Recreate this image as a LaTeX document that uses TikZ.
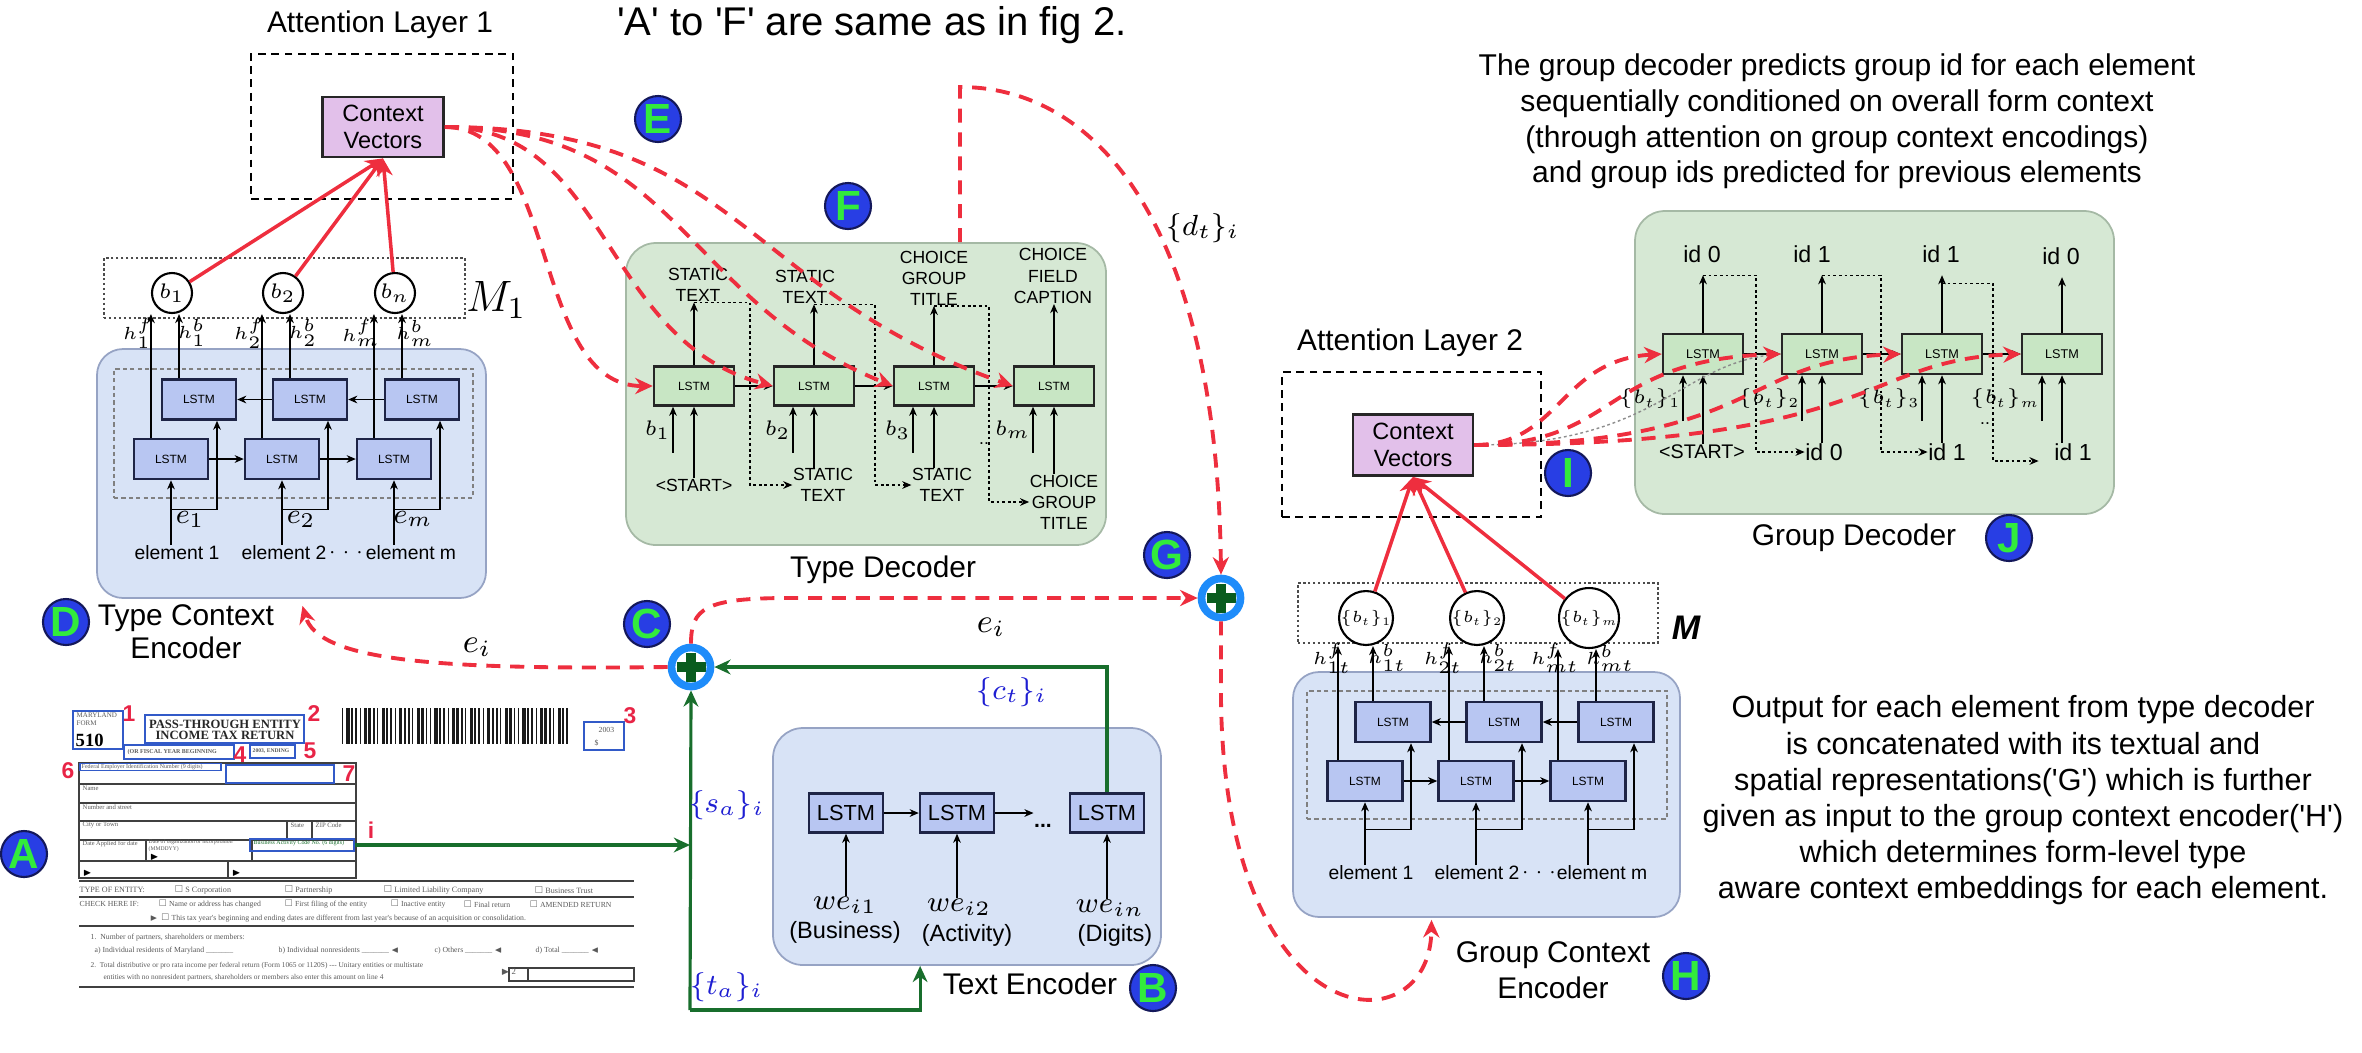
\RequirePackage{fix-cm}
\documentclass[tikz,border=0pt]{standalone}
\usepackage[no-math]{fontspec}
\setmainfont{Liberation Sans}
\newfontfamily\formfont{Liberation Serif}
\usepackage{amssymb}
\usetikzlibrary{arrows.meta,calc}

\definecolor{attnred}{RGB}{238,46,62}
\definecolor{fgreen}{RGB}{24,110,44}
\definecolor{encfill}{RGB}{216,227,246}
\definecolor{encdraw}{RGB}{150,163,196}
\definecolor{decfill}{RGB}{214,232,212}
\definecolor{decdraw}{RGB}{165,185,165}
\definecolor{lstmblue}{RGB}{184,198,242}
\definecolor{lstmdraw}{RGB}{30,36,70}
\definecolor{lstmgreen}{RGB}{200,230,196}
\definecolor{ctxfill}{RGB}{226,192,234}
\definecolor{badgeblue}{RGB}{40,62,228}
\definecolor{badgedraw}{RGB}{20,24,90}
\definecolor{badgegreen}{RGB}{50,235,60}
\definecolor{ringblue}{RGB}{30,140,250}
\definecolor{plusgreen}{RGB}{10,92,30}
\definecolor{labblue}{RGB}{30,30,210}
\definecolor{formblue}{RGB}{50,90,200}
\definecolor{numred}{RGB}{232,36,70}

\begin{document}
\begin{tikzpicture}[x=0.1mm, y=-0.1mm,
  lbl/.style={font=\fontsize{8.5}{9.4}\selectfont, align=center, inner sep=0},
  para/.style={font=\fontsize{8.55}{10.15}\selectfont, align=center, inner sep=0},
  encbox/.style={draw=encdraw, fill=encfill, rounded corners=2.6mm, line width=0.5pt},
  decbox/.style={draw=decdraw, fill=decfill, rounded corners=3mm, line width=0.5pt},
  innerbox/.style={draw=black!50, dash pattern=on 1.2pt off 0.9pt, line width=0.3pt},
  attbox/.style={draw=black, dash pattern=on 2.2pt off 1.6pt, line width=0.6pt},
  mbox/.style={draw=black!70, dash pattern=on 0.7pt off 0.7pt, line width=0.45pt},
  lstmb/.style={draw=lstmdraw, fill=lstmblue, line width=0.7pt, minimum width=7.4mm, minimum height=4mm, inner sep=0, font=\fontsize{3.4}{4}\selectfont},
  lstmg/.style={draw=black!85, fill=lstmgreen, line width=0.7pt, minimum width=8mm, minimum height=3.9mm, inner sep=0, font=\fontsize{3.4}{4}\selectfont},
  ctx/.style={draw=black!85, fill=ctxfill, line width=0.8pt, minimum width=12.1mm, minimum height=6mm, inner sep=0, align=center, font=\fontsize{6.7}{7.5}\selectfont},
  bcirc/.style={circle, draw=black, line width=0.6pt, fill=white, minimum size=4mm, inner sep=0, font=\fontsize{6}{6}\selectfont},
  badge/.style={circle, draw=badgedraw, line width=0.6pt, fill=badgeblue, text=badgegreen, minimum size=4.6mm, inner sep=0, font=\bfseries\fontsize{12}{12}\selectfont},
  plusnode/.style={circle, draw=ringblue, line width=2.2pt, fill=white, minimum size=3.9mm, inner sep=0, path picture={
      \fill[plusgreen] ($(path picture bounding box.center)+(-1.45mm,-0.5mm)$) rectangle ($(path picture bounding box.center)+(1.45mm,0.5mm)$);
      \fill[plusgreen] ($(path picture bounding box.center)+(-0.5mm,-1.45mm)$) rectangle ($(path picture bounding box.center)+(0.5mm,1.45mm)$);}},
  thinarr/.style={draw=black, line width=0.35pt, -{Stealth[length=2.6pt,width=2.2pt]}},
  feedback/.style={thinarr, dash pattern=on 0.8pt off 0.8pt},
  redarr/.style={draw=attnred, line width=1pt, -{Stealth[length=5pt,width=4.6pt]}},
  reddash/.style={draw=attnred, line width=1.1pt, dash pattern=on 4pt off 2.8pt, -{Stealth[length=5pt,width=4.6pt]}},
  grnarr/.style={draw=fgreen, line width=0.9pt, -{Stealth[length=4.6pt,width=4.2pt]}},
  outlbl/.style={font=\fontsize{5}{6}\selectfont, align=center, inner sep=0},
  idlbl/.style={font=\fontsize{6.6}{7}\selectfont, inner sep=0},
  hlab/.style={font=\fontsize{5}{5}\selectfont, inner sep=0},
  blab/.style={font=\fontsize{6}{6}\selectfont, inner sep=0},
  elab/.style={font=\fontsize{8}{8}\selectfont, inner sep=0},
  mlab/.style={font=\fontsize{8.3}{9}\selectfont, inner sep=0},
  elem/.style={font=\fontsize{5.5}{6}\selectfont, inner sep=0},
  wlab/.style={font=\fontsize{6.7}{7}\selectfont, inner sep=0},
  rednum/.style={text=numred, font=\bfseries\fontsize{6.5}{6.5}\selectfont, inner sep=0},
  ftxt/.style={font=\formfont\fontsize{2.2}{2.6}\selectfont, text=black!65, inner sep=0, anchor=west},
  fbox/.style={draw=formblue, line width=0.35pt, inner sep=0},
  fline/.style={draw=black!75, line width=0.5pt}]
\useasboundingbox (0,0) rectangle (2362,1052);

% titles and notes
\node[font=\fontsize{11.4}{12}\selectfont, inner sep=0] (title) at (872,25) {\textquotesingle A\textquotesingle\ to \textquotesingle F\textquotesingle\ are same as in fig 2.};
\node[para] (p1) at (1837,121.5) {The group decoder predicts group id for each element\\sequentially conditioned on overall form context\\(through attention on group context encodings)\\and group ids predicted for previous elements};
\node[para, font=\fontsize{8.7}{10.3}\selectfont] (p2) at (2023,800.5) {Output for each element from type decoder\\is concatenated with its textual and\\spatial representations(\textquotesingle G\textquotesingle) which is further\\given as input to the group context encoder(\textquotesingle H\textquotesingle)\\which determines form-level type\\aware context embeddings for each element.};

% attention layer 1
\node[lbl] (att1lbl) at (380,25) {Attention Layer 1};
\node[attbox, minimum width=26.2mm, minimum height=14.5mm] (att1) at (382,126.5) {};
\node[ctx] (ctx1) at (383,127) {Context\\Vectors};

% type context encoder
\node[encbox, minimum width=38.9mm, minimum height=24.9mm] (tce) at (291.5,473.5) {};
\node[innerbox, minimum width=35.9mm, minimum height=12.9mm] (tcein) at (293.5,433.5) {};
\node[mbox, minimum width=36.1mm, minimum height=6mm] (m1box) at (284.5,288) {};
\node[font=\fontsize{12.5}{13}\selectfont, inner sep=0] (m1lbl) at (496,300) {$M_1$};
\foreach \i/\x/\hs/\bs/\ex in {1/171/1/1/177, 2/282/2/2/284, 3/394/m/n/411}{
  \node[lstmb] (tfw\i) at (\x,459) {LSTM};
  \node[lstmb] (tbw\i) at (\x+28,399.5) {LSTM};
  \node[bcirc] (b\i) at (\x+1,293) {$b_{\bs}$};
  \node[elem] (el\i) at (\ex,553) {element \hs};
  \node[elab] (e\i) at (\x+19,519) {$e_{\hs}$};
  \node[hlab] (hf\i) at (\x-33,333) {$h^f_{\hs}$};
  \node[hlab] (hb\i) at (\x+21,333) {$h^b_{\hs}$};
  \draw[thinarr] (tfw\i.south |- el\i.north) -- (tfw\i.south);
  \draw[thinarr] ($(tfw\i.south)+(0,29)$) -| ($(tbw\i.south)+(18,0)$);
  \draw[thinarr] (b\i.west |- tfw\i.north) -- (b\i.west |- b\i.south);
  \draw[thinarr] ($(b\i.south |- tbw\i.north)+(7,0)$) -- ($(b\i.south)+(7,0)$);
  \draw[redarr] (b\i) -- (ctx1.south);
}
\node[elem] (eldots) at (346,553) {$\cdots$};
\draw[thinarr] (tfw1) -- (tfw2);
\draw[thinarr] (tfw2) -- (tfw3);
\draw[thinarr] (tbw3) -- (tbw2);
\draw[thinarr] (tbw2) -- (tbw1);
\node[lbl] (tcelbl) at (186,632) {Type Context\\Encoder};

% type decoder
\node[decbox, minimum width=48mm, minimum height=30.2mm] (tdbox) at (866,394) {};
\foreach \i/\x in {1/694,2/814,3/934,4/1054}
  \node[lstmg] (tl\i) at (\x,386) {LSTM};
\node[outlbl] (to1) at (698,285) {STATIC\\TEXT};
\node[outlbl] (to2) at (805,287) {STATIC\\TEXT};
\node[outlbl] (to3) at (934,278) {CHOICE\\GROUP\\TITLE};
\node[outlbl] (to4) at (1053,276) {CHOICE\\FIELD\\CAPTION};
\node[outlbl] (ti1) at (694,485) {<START>};
\node[outlbl] (ti2) at (823,485) {STATIC\\TEXT};
\node[outlbl] (ti3) at (942,485) {STATIC\\TEXT};
\node[outlbl] (ti4) at (1064,502) {CHOICE\\GROUP\\TITLE};
\foreach \i/\bb in {1/1,2/2,3/3,4/m}{
  \draw[thinarr] (tl\i.north) -- (tl\i.north |- to\i.south);
  \draw[thinarr] (tl\i.south |- ti\i.north) -- (tl\i.south);
  \draw[thinarr] ($(tl\i.south)+(-21,46)$) -- node[left=0.6pt, blab] (tdb\i) {$b_{\bb}$} ($(tl\i.south)+(-21,0)$);
}
\foreach \i/\j in {1/2,2/3,3/4}
  \draw[thinarr] (tl\i) -- (tl\j);
\draw[feedback] (tl1.north |- to1.south) -- ++(56,0) |- (ti2.west);
\draw[feedback] (tl2.north |- to2.south) -- ++(61,0) |- (ti3.west);
\draw[feedback] (tl3.north |- to3.south) -- ++(55,0) |- (ti4.west);
\node[outlbl] (tddots) at (984,444) {..};
\node[lbl] (tdlbl) at (883,570) {Type Decoder};

% text encoder
\node[encbox, rounded corners=3mm, minimum width=38.8mm, minimum height=23.7mm] (tebox) at (967,846.5) {};
\foreach \i/\x in {1/846,2/957,3/1107}
  \node[lstmb, minimum height=3.9mm, font=\fontsize{6.2}{7}\selectfont] (tel\i) at (\x,813) {LSTM};
\node[mlab] (we1) at (845,905) {$we_{i1}$};
\node[mlab] (we2) at (959,907) {$we_{i2}$};
\node[mlab] (we3) at (1110,908) {$we_{in}$};
\node[wlab] (wt1) at (845,932) {(Business)};
\node[wlab] (wt2) at (967,935) {(Activity)};
\node[wlab] (wt3) at (1115,935) {(Digits)};
\foreach \i in {1,2,3}
  \draw[thinarr] (tel\i.south |- we\i.north) -- (tel\i.south);
\node[font=\bfseries\fontsize{6}{6}\selectfont, inner sep=0] (tedots) at (1043,826) {...};
\draw[thinarr] (tel1) -- (tel2);
\draw[thinarr] (tel2.east) -- (tel2.east -| tedots.west);
\node[lbl] (telbl) at (1030,984) {Text Encoder};

% attention layer 2
\node[lbl] (att2lbl) at (1410,343) {Attention Layer 2};
\node[attbox, minimum width=25.9mm, minimum height=14.5mm] (att2) at (1411.5,444.5) {};
\node[ctx, minimum width=12mm, minimum height=6.1mm] (ctx2) at (1413,445) {Context\\Vectors};

% group context encoder
\node[encbox, minimum width=38.7mm, minimum height=24.5mm] (gce) at (1486.5,794.5) {};
\node[innerbox, minimum width=36mm, minimum height=12.8mm] (gcein) at (1487,755) {};
\node[mbox, minimum width=36mm, minimum height=6mm] (gmbox) at (1478,613) {};
\node[font=\bfseries\itshape\fontsize{9.7}{10}\selectfont, inner sep=0] (mlbl) at (1686,628) {M};
\foreach \i/\x/\hs/\ex in {1/1365/1/1371, 2/1476/2/1477, 3/1588/m/1602}{
  \node[lstmb, minimum width=7.5mm] (gfw\i) at (\x,781) {LSTM};
  \node[lstmb, minimum width=7.5mm] (gbw\i) at (\x+28,722) {LSTM};
  \node[bcirc, font=\fontsize{4.6}{5}\selectfont] (gb\i) at (\x+1,618) {$\{b_t\}_{\hs}$};
  \node[elem] (gel\i) at (\ex,873) {element \hs};
  \node[hlab] (ghf\i) at (\x-33,658) {$h^f_{\hs t}$};
  \node[hlab] (ghb\i) at (\x+22,658) {$h^b_{\hs t}$};
  \draw[thinarr] (gfw\i.south |- gel\i.north) -- (gfw\i.south);
  \draw[thinarr] ($(gfw\i.south)+(0,27)$) -| ($(gbw\i.south)+(18,0)$);
  \draw[thinarr] (gb\i.west |- gfw\i.north) -- (gb\i.west |- gb\i.south);
  \draw[thinarr] ($(gb\i.south |- gbw\i.north)+(7,0)$) -- ($(gb\i.south)+(7,0)$);
  \draw[redarr] (gb\i) -- (ctx2.south);
}
\node[elem] (geldots) at (1539,873) {$\cdots$};
\draw[thinarr] (gfw1) -- (gfw2);
\draw[thinarr] (gfw2) -- (gfw3);
\draw[thinarr] (gbw3) -- (gbw2);
\draw[thinarr] (gbw2) -- (gbw1);
\node[lbl, font=\fontsize{8.5}{10.2}\selectfont] (gcelbl) at (1553,970) {Group Context\\Encoder};

% group decoder
\node[decbox, minimum width=47.9mm, minimum height=30.3mm] (gdbox) at (1874.5,362.5) {};
\foreach \i/\x in {1/1703,2/1822,3/1942,4/2062}
  \node[lstmg, minimum height=4mm, font=\fontsize{3.6}{4}\selectfont] (gl\i) at (\x,354) {LSTM};
\node[idlbl] (go1) at (1702,254) {id 0};
\node[idlbl] (go2) at (1812,254) {id 1};
\node[idlbl] (go3) at (1941,254) {id 1};
\node[idlbl] (go4) at (2061,256) {id 0};
\node[idlbl, font=\fontsize{5.6}{6}\selectfont] (gi1) at (1702,452) {<START>};
\node[idlbl] (gi2) at (1824,452) {id 0};
\node[idlbl] (gi3) at (1947,452) {id 1};
\node[idlbl] (gi4) at (2073,452) {id 1};
\foreach \i/\bb in {1/1,2/2,3/3,4/m}{
  \draw[thinarr] (gl\i.north) -- ($(gl\i.north |- go\i.south)+(0,12)$);
  \draw[thinarr] (gl\i.south |- gi\i.north) -- (gl\i.south);
  \draw[thinarr] ($(gl\i.south)+(-20,46)$) -- node[left=0.5pt, font=\fontsize{5.6}{6}\selectfont, inner sep=0] (gdb\i) {$\{b_t\}_{\bb}$} ($(gl\i.south)+(-20,0)$);
}
\foreach \i/\j in {1/2,2/3,3/4}
  \draw[thinarr] (gl\i) -- (gl\j);
\draw[feedback] ($(gl1.north |- go1.south)+(0,12)$) -- ++(53,0) |- (gi2.west);
\draw[feedback] ($(gl2.north |- go2.south)+(0,12)$) -- ++(59,0) |- (gi3.west);
\draw[feedback] ($(gl3.north |- go3.south)+(0,20)$) -- ++(51,0) |- ($(gi4.west)+(-15,9)$);
\node[outlbl] (gddots) at (1985,424) {..};
\node[lbl] (gdlbl) at (1854,538) {Group Decoder};

% form
\node[fbox, minimum width=5mm, minimum height=3.8mm] (fb1) at (98,730) {};
\node[ftxt, font=\formfont\fontsize{2}{2.3}\selectfont, align=left] (fb1a) at (76,719) {MARYLAND\\FORM};
\node[ftxt, text=black, font=\formfont\bfseries\fontsize{5.3}{5.5}\selectfont] (fb1b) at (75,740) {510};
\node[fbox, minimum width=15.9mm, minimum height=2.8mm] (fb2) at (224.5,729) {};
\node[font=\formfont\bfseries\fontsize{3.6}{3.3}\selectfont, align=center, inner sep=0, text=black!85] (fb2t) at (225,730) {PASS-THROUGH ENTITY\\INCOME TAX RETURN};
\foreach \k in {0,...,51}{
  \pgfmathsetmacro\bw{1+mod(\k*7,4)*0.7}
  \fill[black!90] (342+\k*4.4,708) rectangle ++(\bw,36);
}
\node[fbox, minimum width=4mm, minimum height=2.8mm] (fb3) at (604,736) {};
\node[ftxt] (fb3a) at (598,730) {2003};
\node[ftxt] (fb3b) at (594,743) {\$};
\node[fbox, minimum width=11mm, minimum height=1.4mm] (fb4) at (179,752) {};
\node[ftxt, font=\formfont\bfseries\fontsize{1.7}{2}\selectfont] (fb4t) at (127,752) {(OR FISCAL YEAR BEGINNING};
\node[fbox, minimum width=4.5mm, minimum height=1.3mm] (fb5) at (272.5,751.5) {};
\node[ftxt, font=\formfont\bfseries\fontsize{1.6}{2}\selectfont] (fb5t) at (252,751.5) {2003, ENDING};
\node[rednum] (n1) at (129,714) {1};
\node[rednum] (n2) at (314,714) {2};
\node[rednum] (n3) at (630,716) {3};
\node[rednum] (n4) at (240,755) {4};
\node[rednum] (n5) at (310,751) {5};
\node[rednum] (n6) at (68,771) {6};
\node[rednum] (n7) at (349,774) {7};
\node[rednum] (ni) at (371,830) {i};
\draw[fline] (79,763) rectangle (356,878);
\foreach \yy in {784,803,821,840,861}
  \draw[fline] (79,\yy) -- (356,\yy);
\draw[fline, line width=0.35pt] (287,821) -- (287,840) (312,821) -- (312,840) (146,840) -- (146,861) (252,840) -- (252,861) (228,861) -- (228,878);
\node[fbox, minimum width=14.1mm, minimum height=0.7mm] (fb6) at (150.5,767) {};
\node[ftxt, font=\formfont\fontsize{1.7}{2}\selectfont] (fb6t) at (81,767) {Federal Employer Identification Number (9 digits)};
\node[fbox, minimum width=10.8mm, minimum height=1.8mm] (fb7) at (280,774) {};
\node[ftxt, font=\formfont\fontsize{1.9}{2}\selectfont] (ft1) at (82,788) {Name};
\node[ftxt, font=\formfont\fontsize{1.9}{2}\selectfont] (ft2) at (82,807) {Number and street};
\node[ftxt, font=\formfont\fontsize{1.9}{2}\selectfont] (ft3) at (82,825) {City or Town};
\node[ftxt, font=\formfont\fontsize{1.9}{2}\selectfont] (ft4) at (290,825) {State};
\node[ftxt, font=\formfont\fontsize{1.9}{2}\selectfont] (ft5) at (315,825) {ZIP Code};
\node[ftxt, font=\formfont\fontsize{1.8}{2}\selectfont] (ft6) at (82,844) {Date Applied for date};
\node[ftxt, font=\formfont\fontsize{1.6}{2}\selectfont, align=left] (ft7) at (148,846) {Date of organization or incorporation\\(MMDDYY)};
\node[fbox, minimum width=10.4mm, minimum height=1.2mm] (fi) at (302,845) {};
\node[ftxt, font=\formfont\fontsize{1.7}{2}\selectfont, text=fgreen] (ft8) at (253,843) {Business Activity Code No. (6 digits)};
\node[ftxt, font=\fontsize{2.5}{3}\selectfont, text=black] (ft9) at (149,857) {$\blacktriangleright$};
\node[ftxt, font=\fontsize{2.5}{3}\selectfont, text=black] (ft10) at (82,873) {$\blacktriangleright$};
\node[ftxt, font=\fontsize{2.5}{3}\selectfont, text=black] (ft11) at (231,873) {$\blacktriangleright$};
\draw[fline, line width=0.7pt] (79,881) -- (634,881);
\draw[fline] (79,897) -- (634,897);
\draw[fline] (79,926) -- (634,926);
\draw[fline, line width=0.7pt] (79,987) -- (634,987);
\node[ftxt, font=\formfont\fontsize{2.3}{3}\selectfont] (ft12) at (79,890) {TYPE OF ENTITY:};
\node[ftxt, font=\formfont\fontsize{2.3}{3}\selectfont] (ft13) at (174,890) {$\square$ S Corporation};
\node[ftxt, font=\formfont\fontsize{2.3}{3}\selectfont] (ft14) at (284,890) {$\square$ Partnership};
\node[ftxt, font=\formfont\fontsize{2.3}{3}\selectfont] (ft15) at (383,890) {$\square$ Limited Liability Company};
\node[ftxt, font=\formfont\fontsize{2.3}{3}\selectfont] (ft16) at (534,890) {$\square$ Business Trust};
\node[ftxt, font=\formfont\fontsize{2.2}{3}\selectfont] (ft17) at (79,904) {CHECK HERE IF:};
\node[ftxt, font=\formfont\fontsize{2.2}{3}\selectfont] (ft18) at (158,904) {$\square$ Name or address has changed};
\node[ftxt, font=\formfont\fontsize{2.2}{3}\selectfont] (ft19) at (284,904) {$\square$ First filing of the entity};
\node[ftxt, font=\formfont\fontsize{2.2}{3}\selectfont] (ft20) at (390,904) {$\square$ Inactive entity};
\node[ftxt, font=\formfont\fontsize{2.2}{3}\selectfont] (ft21) at (463,904) {$\square$ Final return};
\node[ftxt, font=\formfont\fontsize{2.2}{3}\selectfont] (ft22) at (529,904) {$\square$ AMENDED RETURN};
\node[ftxt, font=\formfont\fontsize{2.2}{3}\selectfont] (ft23) at (149,918) {$\blacktriangleright\square$ This tax year's beginning and ending dates are different from last year's because of an acquisition or consolidation.};
\node[ftxt, font=\formfont\fontsize{2.2}{3}\selectfont] (ft24) at (90,938) {1.\ \ Number of partners, shareholders or members:};
\node[ftxt, font=\formfont\fontsize{2.2}{3}\selectfont] (ft25) at (94,951) {a) Individual residents of Maryland \_\_\_\_\_\_\_};
\node[ftxt, font=\formfont\fontsize{2.2}{3}\selectfont] (ft26) at (278,951) {b) Individual nonresidents \_\_\_\_\_\_\_ $\blacktriangleleft$};
\node[ftxt, font=\formfont\fontsize{2.2}{3}\selectfont] (ft27) at (434,951) {c) Others \_\_\_\_\_\_\_ $\blacktriangleleft$};
\node[ftxt, font=\formfont\fontsize{2.2}{3}\selectfont] (ft28) at (535,951) {d) Total \_\_\_\_\_\_\_ $\blacktriangleleft$};
\node[ftxt, font=\formfont\fontsize{2.1}{3}\selectfont] (ft29) at (90,966) {2.\ \ Total distributive or pro rata income per federal return (Form 1065 or 1120S) --- Unitary entities or multistate};
\node[ftxt, font=\formfont\fontsize{2.1}{3}\selectfont] (ft30) at (103,978) {entities with no nonresident partners, shareholders or members also enter this amount on line 4};
\draw[fline, line width=0.4pt] (509,968) rectangle (634,981) (528,968) -- (528,981);
\node[ftxt, font=\formfont\fontsize{2.5}{3}\selectfont] (ft31) at (500,972) {$\blacktriangleright$\,2};

% green connections
\coordinate (gcorner) at (690,1010);
\coordinate (teend) at ($(tebox.south west)+(148,0)$);
\node[plusnode] (plusC) at (691,667) {};
\node[plusnode] (plusG) at (1221,598) {};
\draw[grnarr] (fi.east) -- (fi.east -| gcorner);
\draw[grnarr] (gcorner) -- (plusC.south);
\draw[grnarr] (gcorner) -| (teend);
\draw[grnarr] (tel3.north) |- (plusC.east);
\node[mlab, text=labblue] (salbl) at (727,805) {$\{s_a\}_i$};
\node[mlab, text=labblue] (talbl) at (727,987) {$\{t_a\}_i$};
\node[mlab, text=labblue] (ctlbl) at (1012,692) {$\{c_t\}_i$};

% red attention curves
\foreach \i/\ca/\cb/\cy in {1/560/530/386, 2/610/600/340, 3/680/680/300, 4/740/740/290}
  \draw[reddash] (ctx1.east) .. controls (\ca,127) and (\cb,\cy) .. (tl\i.west);
\draw[black!45, dash pattern=on 0.8pt off 0.8pt, line width=0.4pt] (ctx2.east) .. controls (1660,445) and (1680,360) .. (gl2.west);
\foreach \i/\ca/\cb in {1/1560/1560, 2/1620/1600, 3/1760/1740, 4/1880/1860}
  \draw[reddash] (ctx2.east) .. controls (\ca,445) and (\cb,360) .. (gl\i.west);

% red flow between blocks
\coordinate (dtstart) at ($(tdbox.north)+(94,0)$);
\coordinate (dend) at ($(tce.south)+(11,7)$);
\coordinate (hend) at ($(gce.south)+(-55,2)$);
\draw[reddash] (dtstart) -- (960,87) .. controls (1100,87) and (1217,230) .. (plusG.north);
\node[mlab] (dtlbl) at (1203,228) {$\{d_t\}_i$};
\draw[reddash] (plusC.west) .. controls (430,670) and (318,660) .. (dend);
\draw[reddash] (plusC.north) .. controls (691,608) and (705,598) .. (790,598) -- (plusG.west);
\draw[reddash] (plusG.south) -- (1221,700) .. controls (1225,1040) and (1430,1050) .. (hend);
\node[font=\fontsize{9.5}{10}\selectfont, inner sep=0] (eileft) at (477,647) {$e_i$};
\node[font=\fontsize{9.5}{10}\selectfont, inner sep=0] (eiright) at (991,627) {$e_i$};

% badges
\node[badge] (A) at (24,854) {A};
\node[badge] (B) at (1153,988) {B};
\node[badge] (C) at (647,624) {C};
\node[badge] (D) at (66,622) {D};
\node[badge] (E) at (658,119) {E};
\node[badge] (F) at (848,206) {F};
\node[badge] (G) at (1167,555) {G};
\node[badge] (H) at (1686,976) {H};
\node[badge] (I) at (1568,473) {I};
\node[badge] (J) at (2009,538) {J};
\end{tikzpicture}
\end{document}
